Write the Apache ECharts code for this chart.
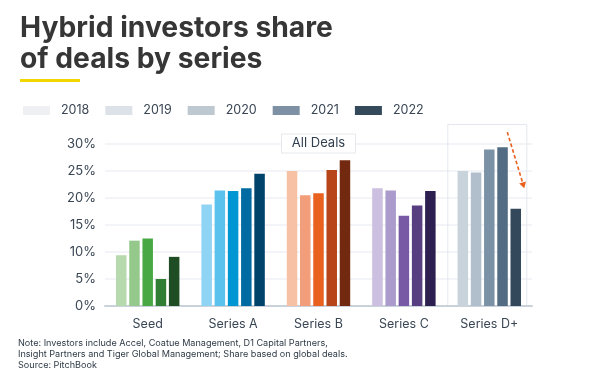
<!DOCTYPE html>
<html>
<head>
<meta charset="utf-8">
<script src="https://cdn.jsdelivr.net/npm/echarts@6/dist/echarts.min.js"></script>
<style>
html,body{margin:0;padding:0;background:#fff;}
#c{width:600px;height:379px;}
</style>
</head>
<body>
<div id="c"></div>
<script>
const categories = ['Seed', 'Series A', 'Series B', 'Series C', 'Series D+'];
const years = ['2018', '2019', '2020', '2021', '2022'];
const values2018 = [9.4, 18.8, 25.0, 21.8, 25.0];
const values2019 = [12.1, 21.4, 20.5, 21.4, 24.7];
const values2020 = [12.5, 21.3, 20.9, 16.7, 29.0];
const values2021 = [5.0, 21.8, 25.2, 18.6, 29.4];
const values2022 = [9.1, 24.5, 27.0, 21.3, 18.0];
const yTicks = [0, 5, 10, 15, 20, 25, 30];

const titleLines = ['Hybrid investors share', 'of deals by series'];
const noteLines = [
  'Note: Investors include Accel, Coatue Management, D1 Capital Partners,',
  'Insight Partners and Tiger Global Management; Share based on global deals.',
  'Source: PitchBook'
];

const legendColors = ['#eef0f4', '#dde1e8', '#bec8d1', '#7e91a4', '#344a5a'];
const ramps = [
  ['#b6d9ae', '#95c98b', '#48a944', '#2f7e33', '#1f4e24'],
  ['#8fd3f5', '#5bc2ee', '#0095d3', '#006ba3', '#00436a'],
  ['#f7c1a5', '#f29e7b', '#e8611e', '#b8441a', '#73290f'],
  ['#ccbfdf', '#ab9bcc', '#7759a6', '#563e80', '#2e1f51'],
  ['#c8d3dc', '#b0bfcb', '#7b92a6', '#526c83', '#33485a']
];
const allValues = [values2018, values2019, values2020, values2021, values2022];

const FONT = 'Inter, "Noto Sans", sans-serif';

const mc = document.createElement('canvas').getContext('2d');
function fitSize(text, weight, target) {
  mc.font = weight + ' 20px ' + FONT;
  return 20 * target / mc.measureText(text).width;
}
const titleSize = Math.min(29, fitSize(titleLines[0], 'bold', 313));
const noteSize = Math.min(11.5, fitSize(noteLines[1], 'normal', 330));

const chart = echarts.init(document.getElementById('c'), null, {renderer: 'canvas'});

const series = years.map((y, yi) => ({
  name: y,
  type: 'bar',
  barWidth: 10.5,
  barGap: '26%',
  itemStyle: {color: legendColors[yi]},
  data: allValues[yi].map((v, ci) => ({value: v, itemStyle: {color: ramps[ci][yi]}})),
  emphasis: {disabled: true},
  animation: false
}));

chart.setOption({
  animation: false,
  textStyle: {fontFamily: FONT},
  grid: {left: 105, right: 68, top: 144, bottom: 73, containLabel: false},
  legend: {
    left: 18, top: 99,
    itemWidth: 27, itemHeight: 9, itemGap: 16,
    icon: 'rect',
    data: years,
    textStyle: {fontFamily: FONT, fontSize: 12.5, color: '#3a4654', padding: [0, 0, 0, 6]}
  },
  xAxis: {
    type: 'category',
    data: categories,
    axisTick: {show: false},
    axisLine: {lineStyle: {color: '#c9d1da', width: 2}},
    axisLabel: {fontFamily: FONT, fontSize: 12.5, color: '#3a4654', margin: 12}
  },
  yAxis: {
    type: 'value',
    min: yTicks[0], max: yTicks[yTicks.length - 1], interval: 5,
    axisLabel: {fontFamily: FONT, fontSize: 13, color: '#3a4654', margin: 9, formatter: v => v + '%'},
    splitLine: {lineStyle: {color: '#eef0f4', width: 1.5}},
    axisLine: {show: false}, axisTick: {show: false}
  },
  series: series
});

const pB = chart.convertToPixel({gridIndex: 0}, ['Series B', 0]);
const pD0 = chart.convertToPixel({gridIndex: 0}, ['Series D+', 0]);
const pTop = chart.convertToPixel({gridIndex: 0}, ['Series D+', 33.6]);
const pA1 = chart.convertToPixel({gridIndex: 0}, ['Series D+', 32.2]);
const pA2 = chart.convertToPixel({gridIndex: 0}, ['Series D+', 21.8]);
const p30 = chart.convertToPixel({gridIndex: 0}, ['Series B', 30]);

const x1 = pD0[0] + 18, y1 = pA1[1], x2 = pD0[0] + 35, y2 = pA2[1];
const ang = Math.atan2(y2 - y1, x2 - x1);
const ah = 6, aw = 3.5;
const bx = x2 - ah * Math.cos(ang), by = y2 - ah * Math.sin(ang);
const nx = -Math.sin(ang), ny = Math.cos(ang);

chart.setOption({
  graphic: [
    {type: 'text', x: 20, y: 29, style: {text: titleLines[0], font: 'bold ' + titleSize + 'px ' + FONT, fill: '#363636', verticalAlign: 'middle'}},
    {type: 'text', x: 20, y: 60, style: {text: titleLines[1], font: 'bold ' + titleSize + 'px ' + FONT, fill: '#363636', verticalAlign: 'middle'}},
    {type: 'rect', shape: {x: 20, y: 79, width: 60, height: 3}, style: {fill: '#f2d600'}},
    {type: 'text', x: 18, y: 343, style: {text: noteLines[0], font: noteSize + 'px ' + FONT, fill: '#2e3a46', verticalAlign: 'middle'}},
    {type: 'text', x: 18, y: 354, style: {text: noteLines[1], font: noteSize + 'px ' + FONT, fill: '#2e3a46', verticalAlign: 'middle'}},
    {type: 'text', x: 18, y: 365, style: {text: noteLines[2], font: noteSize + 'px ' + FONT, fill: '#2e3a46', verticalAlign: 'middle'}},
    {type: 'rect', z: 0, shape: {x: pD0[0] - 41.5, y: pTop[1], width: 79, height: pD0[1] - pTop[1]}, style: {fill: 'none', stroke: '#e3e7ee', lineWidth: 1}},
    {type: 'rect', z: 10, shape: {x: pB[0] - 37, y: p30[1] - 10, width: 74, height: 19}, style: {fill: '#fff', stroke: '#e6e8ec', lineWidth: 1}},
    {type: 'text', z: 11, x: pB[0], y: p30[1] - 0.5, style: {text: 'All Deals', font: '13px ' + FONT, fill: '#2f3f50', align: 'center', verticalAlign: 'middle'}},
    {type: 'line', z: 12, shape: {x1: x1, y1: y1, x2: bx, y2: by}, style: {stroke: '#e8601c', lineWidth: 1.6, lineDash: [3.5, 2.5]}},
    {type: 'polygon', z: 12, shape: {points: [[x2, y2], [bx + nx * aw, by + ny * aw], [bx - nx * aw, by - ny * aw]]}, style: {fill: '#e8601c'}}
  ]
});
</script>
</body>
</html>
